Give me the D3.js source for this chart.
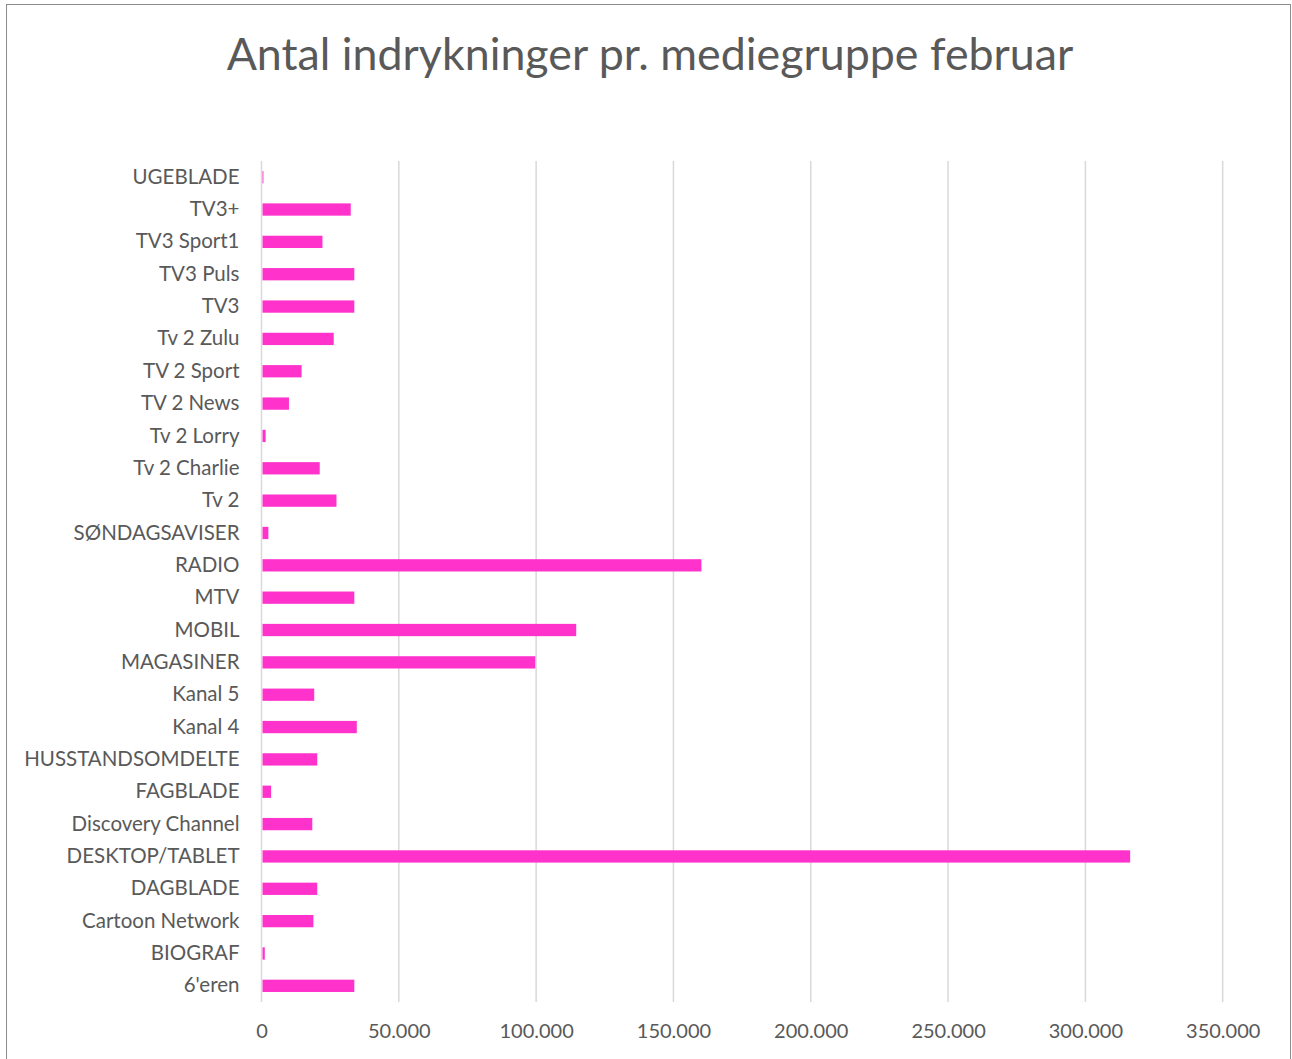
<!DOCTYPE html>
<html>
<head>
<meta charset="utf-8">
<script src="https://d3js.org/d3.v7.min.js"></script>
<style>
  body { margin: 0; background: #fff; }
  text { font-family: Lato, "Open Sans", sans-serif; fill: #595959; }
</style>
</head>
<body>
<div id="chart"></div>
<script>
// categories from top to bottom, as shown in the chart
var categories = ["UGEBLADE", "TV3+", "TV3 Sport1", "TV3 Puls", "TV3", "Tv 2 Zulu", "TV 2 Sport",
  "TV 2 News", "Tv 2 Lorry", "Tv 2 Charlie", "Tv 2", "SØNDAGSAVISER", "RADIO", "MTV", "MOBIL",
  "MAGASINER", "Kanal 5", "Kanal 4", "HUSSTANDSOMDELTE", "FAGBLADE", "Discovery Channel",
  "DESKTOP/TABLET", "DAGBLADE", "Cartoon Network", "BIOGRAF", "6'eren"];
var values = [700, 32500, 22200, 33800, 33800, 26300, 14600,
  10000, 1500, 21200, 27300, 2500, 160200, 33800, 114600,
  99700, 19200, 34700, 20300, 3500, 18500,
  316300, 20300, 18900, 1200, 33800];
var tickValues = [0, 50000, 100000, 150000, 200000, 250000, 300000, 350000];
var title = "Antal indrykninger pr. mediegruppe februar";

var W = 1292, H = 1059;
var margin = { top: 161, right: 70, bottom: 57, left: 261.5 };
var width = 1222.7 - margin.left,
    height = H - margin.top - margin.bottom;

var svg = d3.select("#chart").append("svg")
  .attr("width", W).attr("height", H);

// outer chart border
svg.append("rect")
  .attr("x", 6.5).attr("y", 4.5)
  .attr("width", 1284).attr("height", 1070)
  .attr("fill", "none").attr("stroke", "#8c8c8c").attr("stroke-width", 1);

// title, fitted to the width it takes in the reference
var t = svg.append("text")
  .attr("x", 650).attr("y", 70)
  .attr("text-anchor", "middle")
  .style("font-size", "40px")
  .text(title);
var tw = t.node().getComputedTextLength();
t.style("font-size", (40 * 847 / tw) + "px");

var g = svg.append("g")
  .attr("transform", "translate(" + margin.left + "," + margin.top + ")");

var locale = d3.formatLocale({ decimal: ",", thousands: ".", grouping: [3], currency: ["", ""] });
var fmt = locale.format(",");

var x = d3.scaleLinear().domain([0, 350000]).range([0, width]);
var y = d3.scaleBand().domain(categories).range([0, height]).paddingInner(0.62).paddingOuter(0.31);

// gridlines
g.selectAll(".grid")
  .data(tickValues)
  .enter().append("line")
  .attr("x1", function (d) { return x(d); })
  .attr("x2", function (d) { return x(d); })
  .attr("y1", 0).attr("y2", height)
  .attr("stroke", "#d9d9d9").attr("stroke-width", 1.5);

// bars
g.selectAll(".bar")
  .data(categories)
  .enter().append("rect")
  .attr("x", x(0) + 1)
  .attr("y", function (d) { return y(d); })
  .attr("width", function (d, i) { return Math.max(0, x(values[i]) - x(0) - 1); })
  .attr("height", y.bandwidth())
  .attr("fill", "#ff33cc");

// x axis labels
var xAxis = g.append("g")
  .attr("transform", "translate(0," + height + ")")
  .call(d3.axisBottom(x).tickValues(tickValues).tickFormat(fmt).tickSize(0).tickPadding(22));
xAxis.select(".domain").remove();
xAxis.selectAll("text").style("font-size", "20px").style("fill", "#595959");

// y axis labels
var yAxis = g.append("g")
  .call(d3.axisLeft(y).tickSize(0).tickPadding(22));
yAxis.select(".domain").remove();
yAxis.selectAll("text").style("font-size", "20.5px").style("fill", "#595959");
</script>
</body>
</html>
